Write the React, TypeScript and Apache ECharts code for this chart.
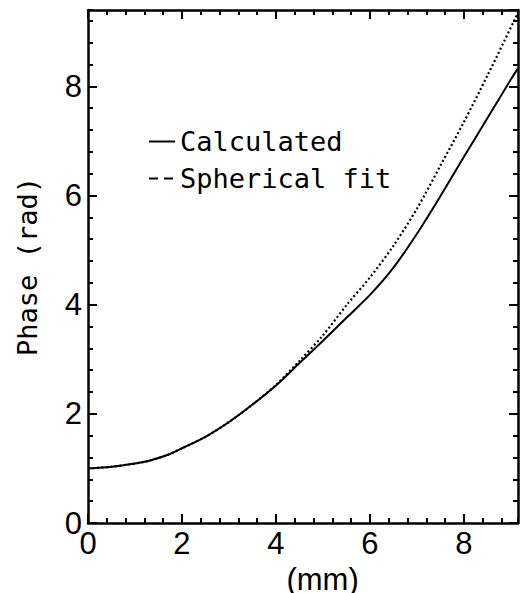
import React, { useEffect, useRef } from "react";
import * as echarts from "echarts";

const calcR = [0, 0.5, 1.0, 1.3, 1.7, 2.0, 2.5, 3.0, 3.5, 4.0, 4.5, 5.0, 5.5, 6.0, 6.5, 7.0, 7.5, 8.0, 8.5, 9.0, 9.15];
const calcPhase = [1.0, 1.03, 1.09, 1.14, 1.25, 1.37, 1.58, 1.85, 2.17, 2.52, 2.93, 3.34, 3.76, 4.18, 4.68, 5.3, 5.99, 6.71, 7.42, 8.13, 8.33];

const fitR = [0, 0.5, 1.0, 1.3, 1.7, 2.0, 2.5, 3.0, 3.5, 4.0, 4.5, 5.0, 5.5, 6.0, 6.5, 7.0, 7.5, 8.0, 8.5, 9.15];
const fitPhase = [1.0, 1.03, 1.09, 1.14, 1.25, 1.37, 1.58, 1.85, 2.17, 2.53, 2.97, 3.44, 3.99, 4.5, 5.08, 5.76, 6.55, 7.35, 8.2, 9.35];

const legendNames = ["Calculated", "Spherical fit"];
const xTitle = "(mm)";
const xTitleVar = "r";
const yTitle = "Phase (rad)";

const X_MAX = 9.15;
const Y_MAX = 9.4;

export default function App() {
  const ref = useRef<HTMLDivElement>(null);
  useEffect(() => {
    document.body.style.margin = "0";
    const chart = echarts.init(ref.current!, null, { renderer: "svg" });
    const black = "#000";
    const monoFont = "DejaVu Sans Mono";
    const labelFont = { fontFamily: "Liberation Sans", fontSize: 31, color: black };
    const mkAxis = (pos: string, max: number, interval: number, major: boolean, labels: boolean, margin: number) => ({
      type: "value",
      position: pos,
      min: 0,
      max,
      interval,
      axisLine: { show: major, onZero: false, lineStyle: { color: black, width: 2.5 } },
      axisTick: { show: true, inside: true, length: major ? 9 : 5, lineStyle: { color: black, width: 2 } },
      axisLabel: labels
        ? { show: true, margin, showMaxLabel: false, ...labelFont }
        : { show: false },
      splitLine: { show: false },
    });
    const xMain: any = mkAxis("bottom", X_MAX, 2, true, true, 5);
    xMain.name = `{r|${xTitleVar}}{m|    ${xTitle}}`;
    xMain.nameLocation = "middle";
    xMain.nameGap = 29;
    xMain.nameTextStyle = {
      rich: {
        r: { fontFamily: "Liberation Sans", fontSize: 14, color: black, verticalAlign: "bottom", lineHeight: 36, padding: [0, 0, -6, 0] },
        m: { fontFamily: "Liberation Sans", fontSize: 31, color: black, lineHeight: 36 },
      },
    };
    const yMain: any = mkAxis("left", Y_MAX, 2, true, true, 6);
    yMain.name = yTitle;
    yMain.nameLocation = "middle";
    yMain.nameGap = 47;
    yMain.nameTextStyle = { fontFamily: monoFont, fontSize: 27, color: black, lineHeight: 28 };

    chart.setOption({
      animation: false,
      grid: { left: 88, right: 5, top: 10, bottom: 70, outerBoundsMode: "none", containLabel: false },
      legend: {
        orient: "vertical",
        left: 143,
        top: 123,
        itemWidth: 26,
        itemHeight: 14,
        itemGap: 10,
        selectedMode: false,
        itemStyle: { opacity: 0, borderWidth: 0 },
        textStyle: { fontFamily: monoFont, fontSize: 27, color: black, lineHeight: 26 },
        data: [
          { name: legendNames[0] },
          { name: legendNames[1], lineStyle: { type: [9, 6], width: 2 } },
        ],
      },
      xAxis: [
        xMain,
        mkAxis("bottom", X_MAX, 0.4, false, false, 5),
        mkAxis("top", X_MAX, 2, true, false, 5),
        mkAxis("top", X_MAX, 0.4, false, false, 5),
      ],
      yAxis: [
        yMain,
        mkAxis("left", Y_MAX, 0.4, false, false, 6),
        mkAxis("right", Y_MAX, 2, true, false, 6),
        mkAxis("right", Y_MAX, 0.4, false, false, 6),
      ],
      series: [
        {
          name: legendNames[0],
          type: "line",
          xAxisIndex: 0,
          yAxisIndex: 0,
          data: calcR.map((r, i) => [r, calcPhase[i]]),
          symbol: "none",
          smooth: 0.3,
          lineStyle: { color: black, width: 2 },
          itemStyle: { color: black },
        },
        {
          name: legendNames[1],
          type: "line",
          xAxisIndex: 0,
          yAxisIndex: 0,
          data: fitR.map((r, i) => [r, fitPhase[i]]),
          symbol: "none",
          smooth: 0.3,
          lineStyle: { color: black, width: 2.2, type: [2, 2.5] },
          itemStyle: { color: black },
        },
      ],
    });
    return () => chart.dispose();
  }, []);
  return <div ref={ref} style={{ width: 523, height: 593 }} />;
}
